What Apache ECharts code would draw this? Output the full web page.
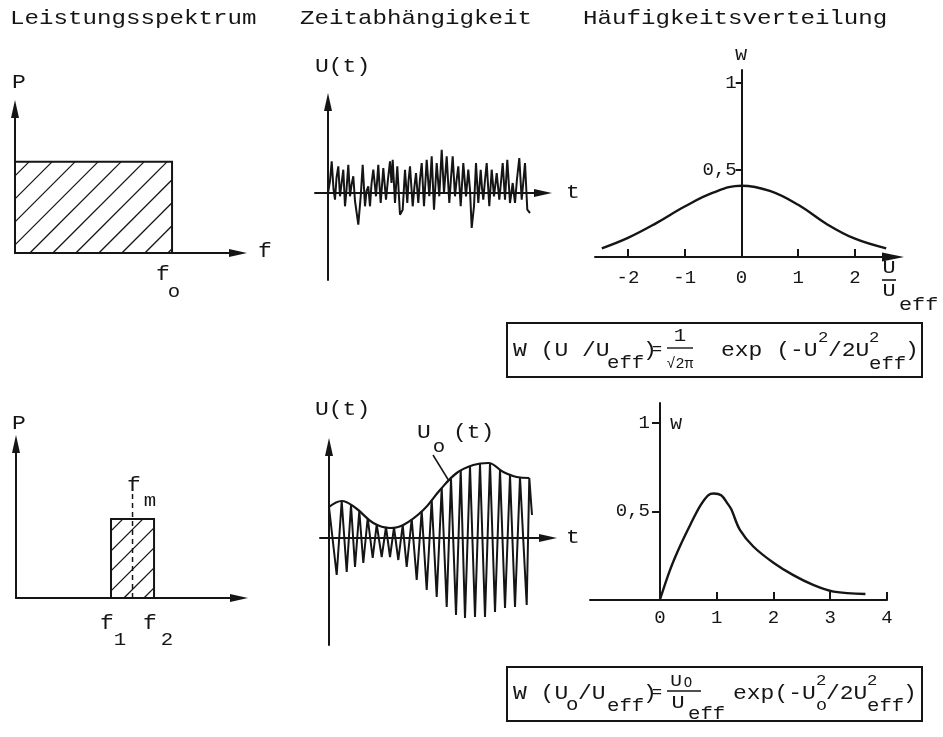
<!DOCTYPE html>
<html>
<head>
<meta charset="utf-8">
<script src="https://cdn.jsdelivr.net/npm/echarts@6/dist/echarts.min.js"></script>
<style>
  html, body { margin: 0; padding: 0; background: #ffffff; }
  #chart { width: 943px; height: 737px; }
</style>
</head>
<body>
<div id="chart"></div>
<script>
// ---------- values ----------
// white noise spectrum: flat from 0 to f0
const whiteBand = [0, 1];
const whiteLevel = 1;
// narrow band spectrum between f1 and f2, centre fm
const narrowBand = [0.605, 0.879];
const narrowLevel = 0.868;
const narrowCentre = 0.742;
const narrowCentreTop = 1.19;

// noise voltage U(t)
const noiseT = [0, 0.2, 0.37, 0.55, 0.7, 0.85, 1.03, 1.2, 1.35, 1.53, 1.7, 1.85, 2.03, 2.2, 2.35, 2.53, 2.7, 2.87, 3.03, 3.27,
  3.47, 3.7, 3.85, 4.03, 4.2, 4.35, 4.53, 4.8, 5.03, 5.15, 5.27, 5.53, 5.8, 6.0, 6.2, 6.35, 6.47, 6.7, 6.93, 7.2,
  7.47, 7.7, 7.93, 8.05, 8.2, 8.47, 8.65, 8.8, 9.03, 9.2, 9.37, 9.6, 9.87, 10.13, 10.25, 10.37, 10.6, 10.87, 11.13, 11.37,
  11.6, 11.87, 12.13, 12.3, 12.47, 12.7, 12.85, 13.03, 13.27, 13.53, 13.8, 14.03, 14.2, 14.37, 14.6, 14.8, 15.03, 15.27, 15.4, 15.53,
  15.7, 15.87, 16.13, 16.37, 16.6, 16.87, 17.13, 17.3, 17.47, 17.7, 17.93, 18.2, 18.47, 18.7, 18.9, 19.13, 19.37, 19.7, 19.93, 20.2];
const noiseU = [0, 1.2, 3.17, 0.4, -0.67, 1.5, 2.67, -0.33, 0.9, 2.33, -1.33, 0.3, 2.83, -0.33, 0.8, 1.67, -0.8, -2.0, -3.17, -0.33,
  2.83, -1.33, 0.2, 0.67, -1.33, 0.9, 2.33, -0.33, 2.83, 0.8, -1.0, 2.5, -0.67, 1.4, 3.17, 1.0, 3.33, -1.0, 2.67, -2.17,
  -1.67, 2.33, -1.0, 1.2, 2.67, -1.33, 0.7, 2.0, -1.0, 1.4, 3.0, -1.33, 3.33, -0.33, 1.6, 3.67, -1.67, 3.0, -0.33, 4.33,
  0.0, 3.67, -1.0, 1.5, 3.67, -0.33, 1.2, 2.67, -1.33, 3.0, -0.33, 2.33, 0.3, -3.5, -1.33, 3.0, -1.0, 2.33, 0.5, -0.67,
  1.3, 3.0, -1.33, 2.33, -0.33, 2.0, -0.67, 1.1, 3.0, -0.67, 3.33, -1.0, 1.0, -1.0, 1.4, 3.5, -0.67, 3.0, -1.67, -2.0];

// narrow band voltage: carrier crests and troughs
const carrierT = [0, 0.77, 1.27, 1.77, 2.2, 2.6, 3.03, 3.43, 3.87, 4.37, 4.77, 5.27, 5.7, 6.1, 6.5, 6.93, 7.37, 7.77, 8.27, 8.77,
  9.27, 9.77, 10.27, 10.77, 11.27, 11.77, 12.2, 12.7, 13.17, 13.6, 14.1, 14.6, 15.1, 15.6, 16.1, 16.6, 17.1, 17.6, 18.1, 18.6,
  19.1, 19.77, 20.03, 20.3];
const carrierU = [3.1, -3.7, 3.7, -3.4, 3.3, -2.9, 2.7, -2.5, 2.0, -2.0, 1.35, -1.9, 1.1, -1.9, 1.05, -2.2, 1.3, -2.9, 1.9, -4.2,
  2.7, -5.2, 3.8, -5.9, 5.0, -6.9, 5.9, -7.7, 6.8, -8.0, 7.2, -7.9, 7.4, -7.9, 7.5, -7.4, 6.8, -7.0, 6.3, -6.9,
  6.1, -6.7, 6.0, 2.3];
// envelope U0(t)
const envelopeT = [0, 1.27, 2.67, 4.43, 6.1, 7.43, 9.43, 11.1, 12.77, 14.43, 15.93, 17.43, 18.77, 20.03];
const envelopeU = [3.1, 3.7, 3.0, 1.5, 1.0, 1.3, 2.8, 4.8, 6.5, 7.3, 7.5, 6.6, 6.1, 6.0];
const envelopeTag = [[10.4, 8.3], [12.0, 5.7]];

// Gaussian distribution W(U/Ueff)
const gaussX = [-2.46, -2, -1.5, -1, -0.5, 0, 0.5, 1, 1.5, 2, 2.55];
const gaussW = [0.05, 0.11, 0.195, 0.29, 0.37, 0.41, 0.38, 0.30, 0.19, 0.105, 0.05];
const gaussTicks = [-2, -1, 0, 1, 2];
const gaussTickText = ['-2', '-1', '0', '1', '2'];

// Rayleigh distribution W(U0/Ueff)
const rayX = [0, 0.18, 0.35, 0.53, 0.71, 0.85, 0.95, 1.08, 1.2, 1.26, 1.41, 1.65, 2.0, 2.35, 2.7, 3.06, 3.62];
const rayW = [0, 0.17, 0.30, 0.42, 0.53, 0.59, 0.60, 0.59, 0.54, 0.51, 0.395, 0.30, 0.21, 0.14, 0.085, 0.047, 0.034];
const rayTicks = [0, 1, 2, 3, 4];
const rayTickText = ['0', '1', '2', '3', '4'];

const wTicks = [0.5, 1];
const wTickText = ['0,5', '1'];

// ---------- styling ----------
const INK = '#151515';
const MONO = '"Liberation Mono", "DejaVu Sans Mono", monospace';
const SQUEEZE = 1.15;

const zip = (a, b) => a.map((v, i) => [v, b[i]]);

function valueAxis(gridIndex, min, max, extra) {
  return Object.assign({
    type: 'value', gridIndex: gridIndex, min: min, max: max,
    axisLine: { show: true, onZero: true, lineStyle: { color: INK, width: 2 } },
    axisTick: { show: false },
    axisLabel: { show: false },
    splitLine: { show: false }
  }, extra || {});
}
function arrowAxis(gridIndex, min, max) {
  return valueAxis(gridIndex, min, max, {
    axisLine: { show: true, onZero: true, symbol: ['none', 'triangle'], symbolSize: [8, 18],
      lineStyle: { color: INK, width: 2 } }
  });
}

function tickLabels(values, texts, margin) {
  return {
    show: true, customValues: values, margin: margin,
    formatter: function (v) { const i = values.indexOf(v); return i >= 0 ? texts[i] : ''; },
    fontFamily: MONO, fontSize: 19, color: INK
  };
}

// hatched band: outline plus 45 degree strokes
function hatch(spacing, offset) {
  return function (params, api) {
    const a = api.coord([api.value(0), 0]);
    const b = api.coord([api.value(1), api.value(2)]);
    const L = a[0], R = b[0], T = b[1], B = a[1];
    const kids = [];
    for (let c = L + T + offset; c < R + B; c += spacing) {
      const xa = Math.max(L, c - B), xb = Math.min(R, c - T);
      if (xb - xa > 1) {
        kids.push({ type: 'line', shape: { x1: xa, y1: c - xa, x2: xb, y2: c - xb },
          style: { stroke: INK, lineWidth: 1.3 } });
      }
    }
    kids.push({ type: 'rect', shape: { x: L, y: T, width: R - L, height: B - T },
      style: { fill: null, stroke: INK, lineWidth: 2 } });
    return { type: 'group', children: kids };
  };
}

function txt(s, x, y, size, align, sx) {
  return {
    type: 'text', x: x, y: y, scaleX: sx === undefined ? SQUEEZE : sx, silent: true,
    style: { text: s, fontFamily: MONO, fontSize: size, fill: INK,
      align: align || 'left', verticalAlign: 'middle' }
  };
}
function rule(x1, y1, x2, y2, w) {
  return { type: 'line', silent: true, shape: { x1: x1, y1: y1, x2: x2, y2: y2 },
    style: { stroke: INK, lineWidth: w || 1.4 } };
}
function box(x, y, w, h) {
  return { type: 'rect', silent: true, shape: { x: x, y: y, width: w, height: h },
    style: { fill: null, stroke: INK, lineWidth: 2 } };
}

const lineSeries = (xi, data, extra) => Object.assign({
  type: 'line', xAxisIndex: xi, yAxisIndex: xi, data: data, symbol: 'none',
  lineStyle: { color: INK, width: 2 }, silent: true
}, extra || {});

const graphics = [
  // column headings
  txt('Leistungsspektrum', 10, 18, 21),
  txt('Zeitabhängigkeit', 300, 18, 21),
  txt('Häufigkeitsverteilung', 583, 18, 21),

  // power spectrum, white
  txt('P', 19, 83, 20, 'center'),
  txt('f', 265, 252, 20, 'center'),
  txt('f', 163, 275, 20, 'center'),
  txt('o', 174, 292, 18, 'center'),

  // noise signal
  txt('U(t)', 315, 67, 20),
  txt('t', 573, 193, 20, 'center'),

  // Gaussian
  txt('W', 741, 55, 17, 'center'),
  txt('U', 889, 268, 19, 'center'),
  rule(882, 280, 896, 280, 1.6),
  txt('U', 889, 291, 19, 'center'),
  txt('eff', 899, 305, 19),

  // formula box 1
  box(507, 323, 415, 54),
  txt('W (U /U', 513, 351, 20),
  txt('eff', 607, 363, 18),
  txt(')', 643, 351, 20),
  txt('=', 657, 350, 15, 'center'),
  txt('1', 680, 336, 18, 'center'),
  rule(667, 348, 693, 348, 1.4),
  txt('√2π', 680, 364, 15, 'center', 1),
  txt('exp (-U', 721, 351, 20),
  txt('2', 818, 338, 15),
  txt('/2U', 828, 351, 20),
  txt('2', 869, 338, 15),
  txt('eff', 869, 364, 18),
  txt(')', 905, 351, 20),

  // power spectrum, narrow band
  txt('P', 19, 424, 20, 'center'),
  txt('f', 134, 486, 20, 'center'),
  txt('m', 150, 501, 18, 'center'),
  txt('f', 107, 624, 20, 'center'),
  txt('1', 120, 640, 18, 'center'),
  txt('f', 150, 624, 20, 'center'),
  txt('2', 167, 640, 18, 'center'),

  // narrow band signal
  txt('U(t)', 315, 410, 20),
  txt('U', 424, 433, 20, 'center'),
  txt('o', 439, 447, 18, 'center'),
  txt('(t)', 453, 433, 20),
  txt('t', 573, 538, 20, 'center'),

  // Rayleigh
  txt('W', 676, 424, 17, 'center'),

  // formula box 2
  box(507, 667, 415, 54),
  txt('W (U', 513, 694, 20),
  txt('o', 566, 705, 18),
  txt('/U', 578, 694, 20),
  txt('eff', 607, 706, 18),
  txt(')', 643, 694, 20),
  txt('=', 657, 693, 15, 'center'),
  txt('U', 676, 681, 17, 'center'),
  txt('O', 688, 683, 14, 'center', 1),
  rule(667, 691, 701, 691, 1.4),
  txt('U', 678, 703, 19, 'center'),
  txt('eff', 688, 714, 18),
  txt('exp(-U', 733, 694, 20),
  txt('2', 816, 681, 15),
  txt('o', 816, 706, 16),
  txt('/2U', 826, 694, 20),
  txt('2', 867, 681, 15),
  txt('eff', 867, 706, 18),
  txt(')', 903, 694, 20)
];

const option = {
  animation: false,
  backgroundColor: '#ffffff',
  grid: [
    { left: 15, top: 109, width: 223, height: 144 },   // white spectrum
    { left: 315, top: 102, width: 228, height: 178 },  // noise signal
    { left: 595, top: 70, width: 298, height: 187 },   // Gaussian
    { left: 16, top: 444, width: 223, height: 154 },   // narrow spectrum
    { left: 320, top: 447, width: 228, height: 198 },  // narrow band signal
    { left: 590, top: 403, width: 297, height: 197 }   // Rayleigh
  ],
  xAxis: [
    arrowAxis(0, 0, 1.42),
    arrowAxis(1, -1.3, 21.5),
    valueAxis(2, -2.58, 2.67, {
      axisLine: { show: true, onZero: true, symbol: ['none', 'triangle'], symbolSize: [9, 22],
        lineStyle: { color: INK, width: 2 } },
      axisTick: { show: true, inside: true, length: 8, customValues: [-2, -1, 1, 2],
        lineStyle: { color: INK, width: 2 } },
      axisLabel: tickLabels(gaussTicks, gaussTickText, 11)
    }),
    arrowAxis(3, 0, 1.42),
    arrowAxis(4, -0.9, 21.9),
    valueAxis(5, -1.23, 4, {
      axisTick: { show: true, inside: true, length: 8, customValues: [1, 2, 3, 4],
        lineStyle: { color: INK, width: 2 } },
      axisLabel: tickLabels(rayTicks, rayTickText, 8)
    })
  ],
  yAxis: [
    arrowAxis(0, 0, 1.58),
    arrowAxis(1, -8.7, 9.1),
    // vertical axis placed at U = 0 through a negative offset, so labels follow it
    valueAxis(2, 0, 1.075, {
      offset: -146.7,
      axisLine: { show: true, onZero: false, lineStyle: { color: INK, width: 2 } },
      axisTick: { show: true, inside: false, length: 6, customValues: wTicks,
        lineStyle: { color: INK, width: 2 } },
      axisLabel: tickLabels(wTicks, wTickText, 5)
    }),
    arrowAxis(3, 0, 1.69),
    arrowAxis(4, -10.7, 9.1),
    valueAxis(5, 0, 1.11, {
      offset: -70,
      axisLine: { show: true, onZero: false, lineStyle: { color: INK, width: 2 } },
      axisTick: { show: true, inside: false, length: 8, customValues: wTicks,
        lineStyle: { color: INK, width: 2 } },
      axisLabel: tickLabels(wTicks, wTickText, 10)
    })
  ],
  series: [
    { type: 'custom', xAxisIndex: 0, yAxisIndex: 0, silent: true, clip: false,
      renderItem: hatch(23, 14), data: [[whiteBand[0], whiteBand[1], whiteLevel]] },
    lineSeries(1, zip(noiseT, noiseU), { lineStyle: { color: INK, width: 2 } }),
    lineSeries(2, zip(gaussX, gaussW), { smooth: 0.4, lineStyle: { color: INK, width: 2.4 } }),
    { type: 'custom', xAxisIndex: 3, yAxisIndex: 3, silent: true, clip: false,
      renderItem: hatch(20, 12), data: [[narrowBand[0], narrowBand[1], narrowLevel]] },
    lineSeries(3, [[narrowCentre, 0], [narrowCentre, narrowCentreTop]],
      { lineStyle: { color: INK, width: 1.5, type: [5, 4] } }),
    lineSeries(4, zip(carrierT, carrierU), { lineStyle: { color: INK, width: 2 } }),
    lineSeries(4, zip(envelopeT, envelopeU), { smooth: 0.4, lineStyle: { color: INK, width: 2.2 } }),
    lineSeries(4, envelopeTag, { lineStyle: { color: INK, width: 1.5 } }),
    lineSeries(5, zip(rayX, rayW), { smooth: 0.35, lineStyle: { color: INK, width: 2.4 } })
  ],
  graphic: graphics
};

const chart = echarts.init(document.getElementById('chart'), null, { renderer: 'canvas' });
chart.setOption(option);
</script>
</body>
</html>
